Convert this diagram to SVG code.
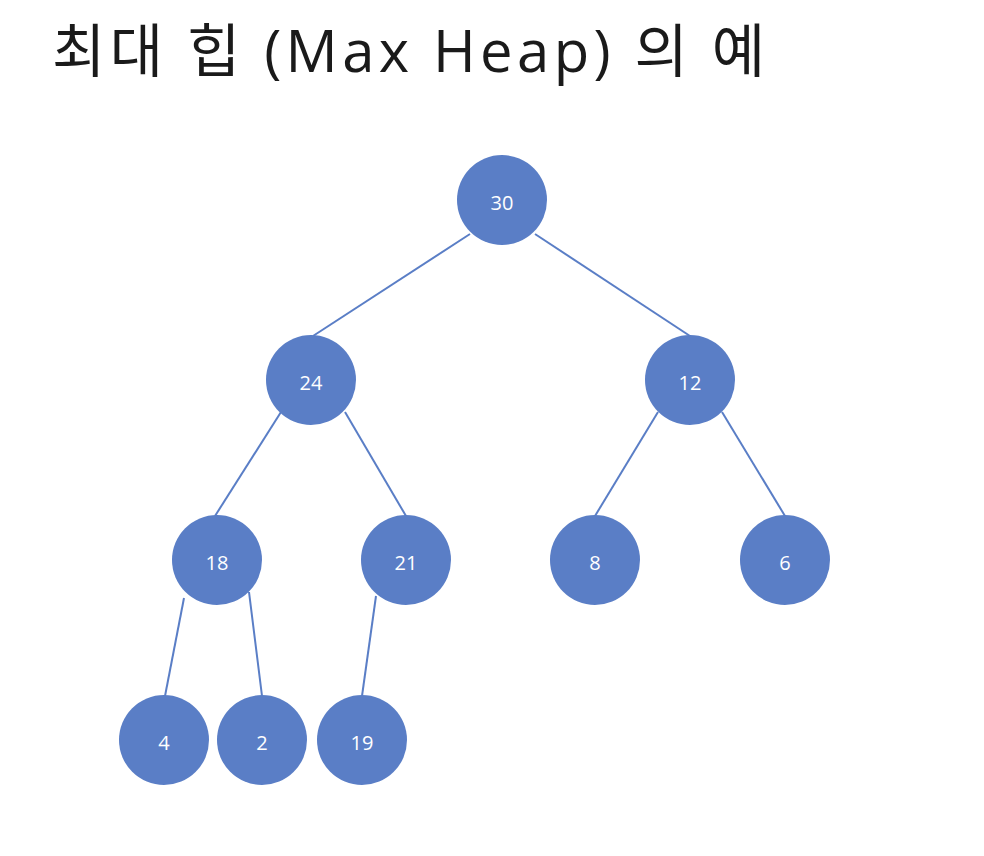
<svg xmlns="http://www.w3.org/2000/svg" width="984" height="856" viewBox="0 0 984 856">
<style>
.n circle{fill:#5a7ec6}
.n text{fill:#fff;font-family:"Open Sans","Liberation Sans",sans-serif;font-size:20px;text-anchor:middle;dominant-baseline:central}
#edges line{stroke:#5a7ec6;stroke-width:2}
</style>
<rect width="984" height="856" fill="#fff"/>
<text x="52" y="72" font-family="'Open Sans','Noto Sans CJK KR',sans-serif" font-size="58" fill="#1a1a1a" textLength="713" lengthAdjust="spacing">최대 힙 (Max Heap) 의 예</text>
<g id="edges">
<line x1="470" y1="234" x2="313" y2="336"/>
<line x1="535" y1="234" x2="690" y2="336"/>
<line x1="281" y1="412" x2="215" y2="516"/>
<line x1="345" y1="412" x2="406" y2="516"/>
<line x1="658" y1="412" x2="595" y2="516"/>
<line x1="722" y1="412" x2="785" y2="516"/>
<line x1="184" y1="598" x2="165" y2="696"/>
<line x1="249" y1="592" x2="262" y2="696"/>
<line x1="376" y1="596" x2="362" y2="696"/>
</g>
<g id="n30" class="n"><circle cx="502" cy="200" r="45"/><text x="502" y="202">30</text></g>
<g id="n24" class="n"><circle cx="311" cy="380" r="45"/><text x="311" y="382">24</text></g>
<g id="n12" class="n"><circle cx="690" cy="380" r="45"/><text x="690" y="382">12</text></g>
<g id="n18" class="n"><circle cx="217" cy="560" r="45"/><text x="217" y="562">18</text></g>
<g id="n21" class="n"><circle cx="406" cy="560" r="45"/><text x="406" y="562">21</text></g>
<g id="n8" class="n"><circle cx="595" cy="560" r="45"/><text x="595" y="562">8</text></g>
<g id="n6" class="n"><circle cx="785" cy="560" r="45"/><text x="785" y="562">6</text></g>
<g id="n4" class="n"><circle cx="164" cy="740" r="45"/><text x="164" y="742">4</text></g>
<g id="n2" class="n"><circle cx="262" cy="740" r="45"/><text x="262" y="742">2</text></g>
<g id="n19" class="n"><circle cx="362" cy="740" r="45"/><text x="362" y="742">19</text></g>
</svg>
